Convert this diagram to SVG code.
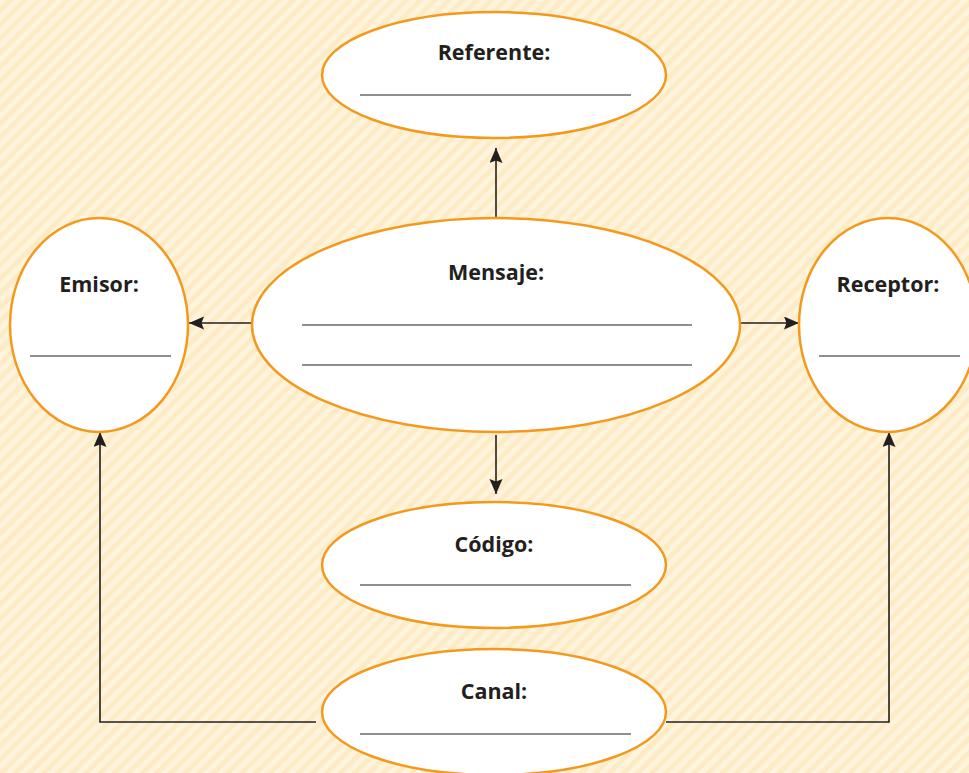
<svg xmlns="http://www.w3.org/2000/svg" width="969" height="773" viewBox="0 0 969 773">
<defs>
<pattern id="stripes" patternUnits="userSpaceOnUse" width="10" height="10" patternTransform="rotate(45)">
<rect width="10" height="10" fill="#fdebc6"/>
<rect width="5" height="10" fill="#fef4dd"/>
</pattern>
<marker id="ah" markerWidth="16" markerHeight="14" refX="15" refY="6.5" orient="auto" markerUnits="userSpaceOnUse">
<path d="M0,0 L15,6.5 L0,13 L2.5,6.5 Z" fill="#231f20"/>
</marker>
<style>
.node ellipse{fill:#fff;stroke:#f39a1e;stroke-width:2.5}
.node text{font-family:"Open Sans","Noto Sans","Liberation Sans",sans-serif;font-weight:bold;font-size:21.5px;fill:#231f20;text-anchor:middle}
.node line{stroke:#231f20;stroke-width:1.1}
.conn path{fill:none;stroke:#231f20;stroke-width:1.6}
</style>
</defs>
<rect width="969" height="773" fill="url(#stripes)"/>
<g id="connectors" class="conn">
<path d="M496,217 V148" marker-end="url(#ah)"/>
<path d="M252,323 H189" marker-end="url(#ah)"/>
<path d="M740,323 H799" marker-end="url(#ah)"/>
<path d="M496,435 V494" marker-end="url(#ah)"/>
<path d="M316,722 H100 V432" marker-end="url(#ah)"/>
<path d="M666,722 H889 V432" marker-end="url(#ah)"/>
</g>
<g id="referente" class="node">
<ellipse cx="494" cy="75" rx="172" ry="63"/>
<text x="494" y="60">Referente:</text>
<line x1="360" y1="95" x2="631" y2="95"/>
</g>
<g id="mensaje" class="node">
<ellipse cx="496" cy="325" rx="244" ry="107"/>
<text x="496" y="280">Mensaje:</text>
<line x1="302" y1="325" x2="692" y2="325"/>
<line x1="302" y1="365" x2="692" y2="365"/>
</g>
<g id="emisor" class="node">
<ellipse cx="99" cy="325" rx="89" ry="107"/>
<text x="99" y="292">Emisor:</text>
<line x1="30" y1="356" x2="171" y2="356"/>
</g>
<g id="receptor" class="node">
<ellipse cx="888" cy="325" rx="89" ry="107"/>
<text x="888" y="292">Receptor:</text>
<line x1="819" y1="356" x2="960" y2="356"/>
</g>
<g id="codigo" class="node">
<ellipse cx="494" cy="565" rx="172" ry="63"/>
<text x="494" y="552">Código:</text>
<line x1="360" y1="585" x2="631" y2="585"/>
</g>
<g id="canal" class="node">
<ellipse cx="494" cy="712" rx="172" ry="63"/>
<text x="494" y="699">Canal:</text>
<line x1="360" y1="734" x2="631" y2="734"/>
</g>
</svg>
